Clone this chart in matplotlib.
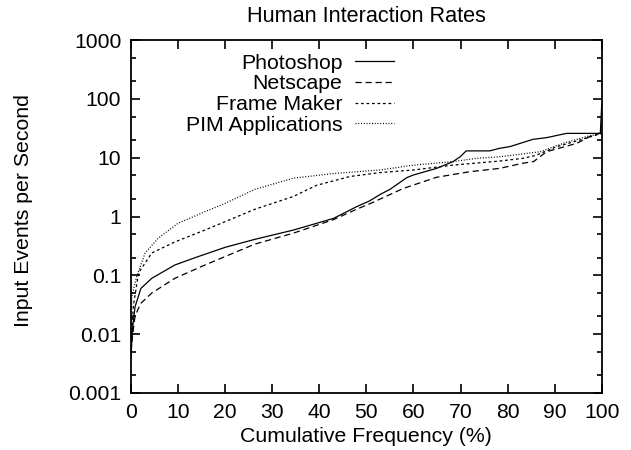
# recreate "Human Interaction Rates" (gnuplot style log plot)
import numpy as np
import matplotlib
matplotlib.use("Agg")
import matplotlib.pyplot as plt
from matplotlib.ticker import LogLocator, NullFormatter, FixedLocator, FuncFormatter

plt.rcParams['font.family'] = ['Liberation Sans', 'DejaVu Sans']

# values
photoshop_x = [0, 0.3, 0.85, 2.1, 4.4, 9.3, 13.6, 20, 26.3, 34.5, 43, 47.9, 50.7, 53, 55, 58.6,
               60, 64.9, 68.4, 70, 71.2, 76.2, 78.3, 80.5, 85.4, 88.3, 92.5, 99.7, 100]
photoshop_y = [0.004, 0.012, 0.029, 0.06, 0.089, 0.15, 0.2, 0.30, 0.41, 0.59, 0.93, 1.47, 1.85, 2.4, 2.9, 4.6,
               5.1, 6.6, 8.6, 10.5, 13.1, 13.1, 14.5, 15.5, 20.6, 22, 26, 26, 80]

netscape_x = [0, 0.3, 0.85, 2, 4.4, 9.3, 15.7, 26.3, 34.4, 42.9, 47.9, 50.7, 53, 57.8, 64.9,
              72, 78.3, 83.3, 85.5, 88.3, 94.7, 97.5, 100]
netscape_y = [0.005, 0.009, 0.02, 0.033, 0.05, 0.089, 0.15, 0.34, 0.52, 0.88, 1.33, 1.65, 2.0, 3.0, 4.66,
              5.8, 6.6, 8.1, 8.6, 12.7, 17.6, 23, 27]

framemaker_x = [0, 0.5, 1.6, 4.4, 9.3, 15.7, 26.3, 34.5, 39.4, 46.5, 52.9, 60, 68.4, 78.3,
                83.3, 86, 90.4, 95.3, 100]
framemaker_y = [0.006, 0.03, 0.11, 0.24, 0.37, 0.59, 1.33, 2.2, 3.4, 4.8, 5.6, 6.2, 7.5, 8.8,
                9.8, 11, 15.4, 20, 26]

pim_x = [0, 0.15, 1.2, 3, 5.8, 10, 15.7, 20, 26.3, 34.5, 43, 52.9, 60, 68.4, 73.4, 78.3,
         87, 91.8, 96.8, 100]
pim_y = [0.008, 0.043, 0.095, 0.24, 0.43, 0.77, 1.21, 1.68, 2.9, 4.5, 5.4, 6.2, 7.5, 8.6, 9.8, 10.4,
         12.7, 17.6, 23, 26]

x_ticks = [0, 10, 20, 30, 40, 50, 60, 70, 80, 90, 100]
y_ticks = [0.001, 0.01, 0.1, 1, 10, 100, 1000]

fig = plt.figure(figsize=(6.31, 4.5), dpi=100)
ax = fig.add_axes([0.2076, 0.1267, 0.7460, 0.7840])

# the four curves, all black, different dash styles
ax.plot(photoshop_x, photoshop_y, color='black', lw=0.9, label='Photoshop')
ax.plot(netscape_x, netscape_y, color='black', lw=0.9, dashes=(5, 3), label='Netscape')
ax.plot(framemaker_x, framemaker_y, color='black', lw=0.9, dashes=(2.2, 2.2), label='Frame Maker')
ax.plot(pim_x, pim_y, color='black', lw=0.9, dashes=(0.8, 1.4), label='PIM Applications')

ax.set_yscale('log')
ax.set_xlim(0, 100)
ax.set_ylim(0.001, 1000)

ax.xaxis.set_major_locator(FixedLocator(x_ticks))
ax.yaxis.set_major_locator(FixedLocator(y_ticks))
ax.yaxis.set_major_formatter(FuncFormatter(lambda v, p: '%g' % v))
ax.yaxis.set_minor_locator(LogLocator(base=10, subs=(2, 5)))
ax.yaxis.set_minor_formatter(NullFormatter())

# gnuplot look: inward ticks on all four sides
ax.tick_params(which='both', direction='in', top=True, right=True, labelsize=15.2, width=1.2)
ax.tick_params(which='major', length=6.5, pad=7)
ax.tick_params(which='minor', length=3.5)
for s in ax.spines.values():
    s.set_linewidth(1.3)

ax.set_title('Human Interaction Rates', fontsize=15.6, pad=13)
ax.set_xlabel('Cumulative Frequency (%)', fontsize=15.3, labelpad=3.5)
ax.set_ylabel('Input Events per Second', fontsize=15.3)
ax.yaxis.set_label_coords(-0.208, 0.516)

leg = ax.legend(loc='upper right', bbox_to_anchor=(0.559, 0.962), markerfirst=False,
                frameon=False, fontsize=15.3, handlelength=1.83, handletextpad=0.6,
                labelspacing=0.08, borderpad=0, borderaxespad=0)

fig.savefig('out.png', dpi=100)
